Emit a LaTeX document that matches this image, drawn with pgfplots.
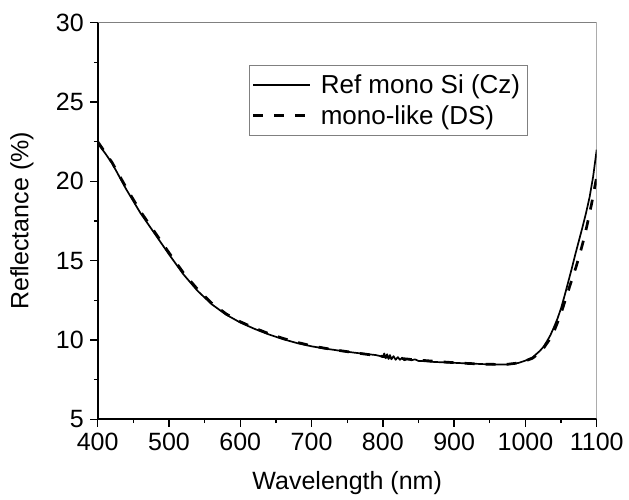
\documentclass[border=0pt]{standalone}
\usepackage{pgfplots}
\pgfplotsset{compat=1.18}
\usepackage{fontspec}
\setmainfont{Liberation Sans}
\begin{document}
\begin{tikzpicture}
\path[use as bounding box] (0,0) rectangle (629bp,500bp);
\begin{axis}[
  at={(97.7bp,80.7bp)}, anchor=south west,
  scale only axis, width=499bp, height=396.6bp,
  xmin=400, xmax=1100, ymin=5, ymax=30,
  axis x line*=bottom, axis y line*=left,
  axis line style={line width=1.6bp},
  xtick={400,500,...,1100}, ytick={5,10,...,30},
  minor x tick num=1, minor y tick num=1,
  tick align=outside,
  major tick length=7.5bp, minor tick length=3.8bp,
  every tick/.style={line width=1.4bp, black},
  /pgf/number format/assume math mode=true,
  /pgf/number format/1000 sep={},
  tick label style={font=\fontsize{25bp}{29bp}\selectfont},
  xticklabel style={yshift=-3bp},
  yticklabel style={xshift=-3bp},
  xlabel={Wavelength (nm)}, ylabel={Reflectance (\%)},
  label style={font=\fontsize{25bp}{29bp}\selectfont},
  xlabel style={at={(axis description cs:0.5,-0.178)}, anchor=base},
  ylabel style={at={(axis description cs:-0.139,0.5)}, anchor=base, rotate=0},
  legend style={at={(axis description cs:0.3026,0.894)}, anchor=north west,
    draw=gray, line width=0.8bp, font=\fontsize{26bp}{30bp}\selectfont,
    inner xsep=3bp, inner ysep=7.5bp, row sep=6.5bp, column sep=5bp,
    nodes={inner xsep=4bp, inner ysep=2bp}},
  legend cell align=left,
  legend image code/.code={\draw[#1] (0bp,0bp) -- (57bp,0bp);},
]
\draw[gray, line width=0.8bp] (rel axis cs:0,1) -- (rel axis cs:1,1) -- (rel axis cs:1,0);
\addplot[black, line width=1.7bp, line join=round] coordinates {
(400,22.4) (410,21.8) (420,21.15) (440,19.5) (460,18.0) (480,16.7) (500,15.4)
(520,14.15) (540,13.1) (560,12.25) (580,11.6) (600,11.1) (620,10.7) (640,10.35)
(660,10.05) (680,9.8) (700,9.6) (720,9.45) (740,9.32) (760,9.2) (780,9.1)
(790,9.05) (795,9.0) (800,8.95) (802,9.15) (804,8.85) (806,9.1) (808,8.8)
(810,9.05) (812,8.78) (815,8.98) (818,8.75) (821,8.92) (824,8.75) (827,8.88)
(830,8.72) (835,8.82) (840,8.72) (845,8.78) (850,8.68) (860,8.66) (870,8.62)
(880,8.6) (900,8.56) (920,8.52) (940,8.48) (960,8.45) (975,8.46) (990,8.55)
(1000,8.7) (1010,8.9) (1020,9.3) (1025,9.55) (1030,9.9) (1035,10.3) (1040,10.8)
(1045,11.35) (1050,12.0) (1055,12.8) (1060,13.65) (1065,14.5) (1070,15.4)
(1075,16.25) (1080,17.1) (1085,18.0) (1090,19.0) (1095,20.3) (1100,22.0)
};
\addlegendentry{Ref mono Si (Cz)}
\addplot[black, line width=2.7bp, dash pattern=on 10bp off 11bp] coordinates {
(400,22.5) (420,21.2) (440,19.6) (460,18.1) (480,16.8) (500,15.5)
(520,14.25) (540,13.2) (560,12.32) (580,11.65) (600,11.15) (620,10.75) (640,10.4)
(660,10.1) (680,9.85) (700,9.63) (720,9.47) (740,9.33) (760,9.2) (780,9.08)
(800,8.96) (820,8.86) (840,8.77) (860,8.7) (880,8.63) (900,8.57) (920,8.52)
(940,8.48) (960,8.46) (975,8.47) (990,8.55) (1000,8.68) (1010,8.85) (1020,9.2)
(1025,9.45) (1030,9.78) (1035,10.1) (1039,10.42) (1045,11.1) (1050,11.7)
(1053,12.1) (1059,12.95) (1065,13.78) (1071,14.6) (1076.6,15.46) (1081,16.2)
(1086,17.14) (1093,18.62) (1100,20.3)
};
\addlegendentry{mono-like (DS)}
\end{axis}
\end{tikzpicture}
\end{document}
